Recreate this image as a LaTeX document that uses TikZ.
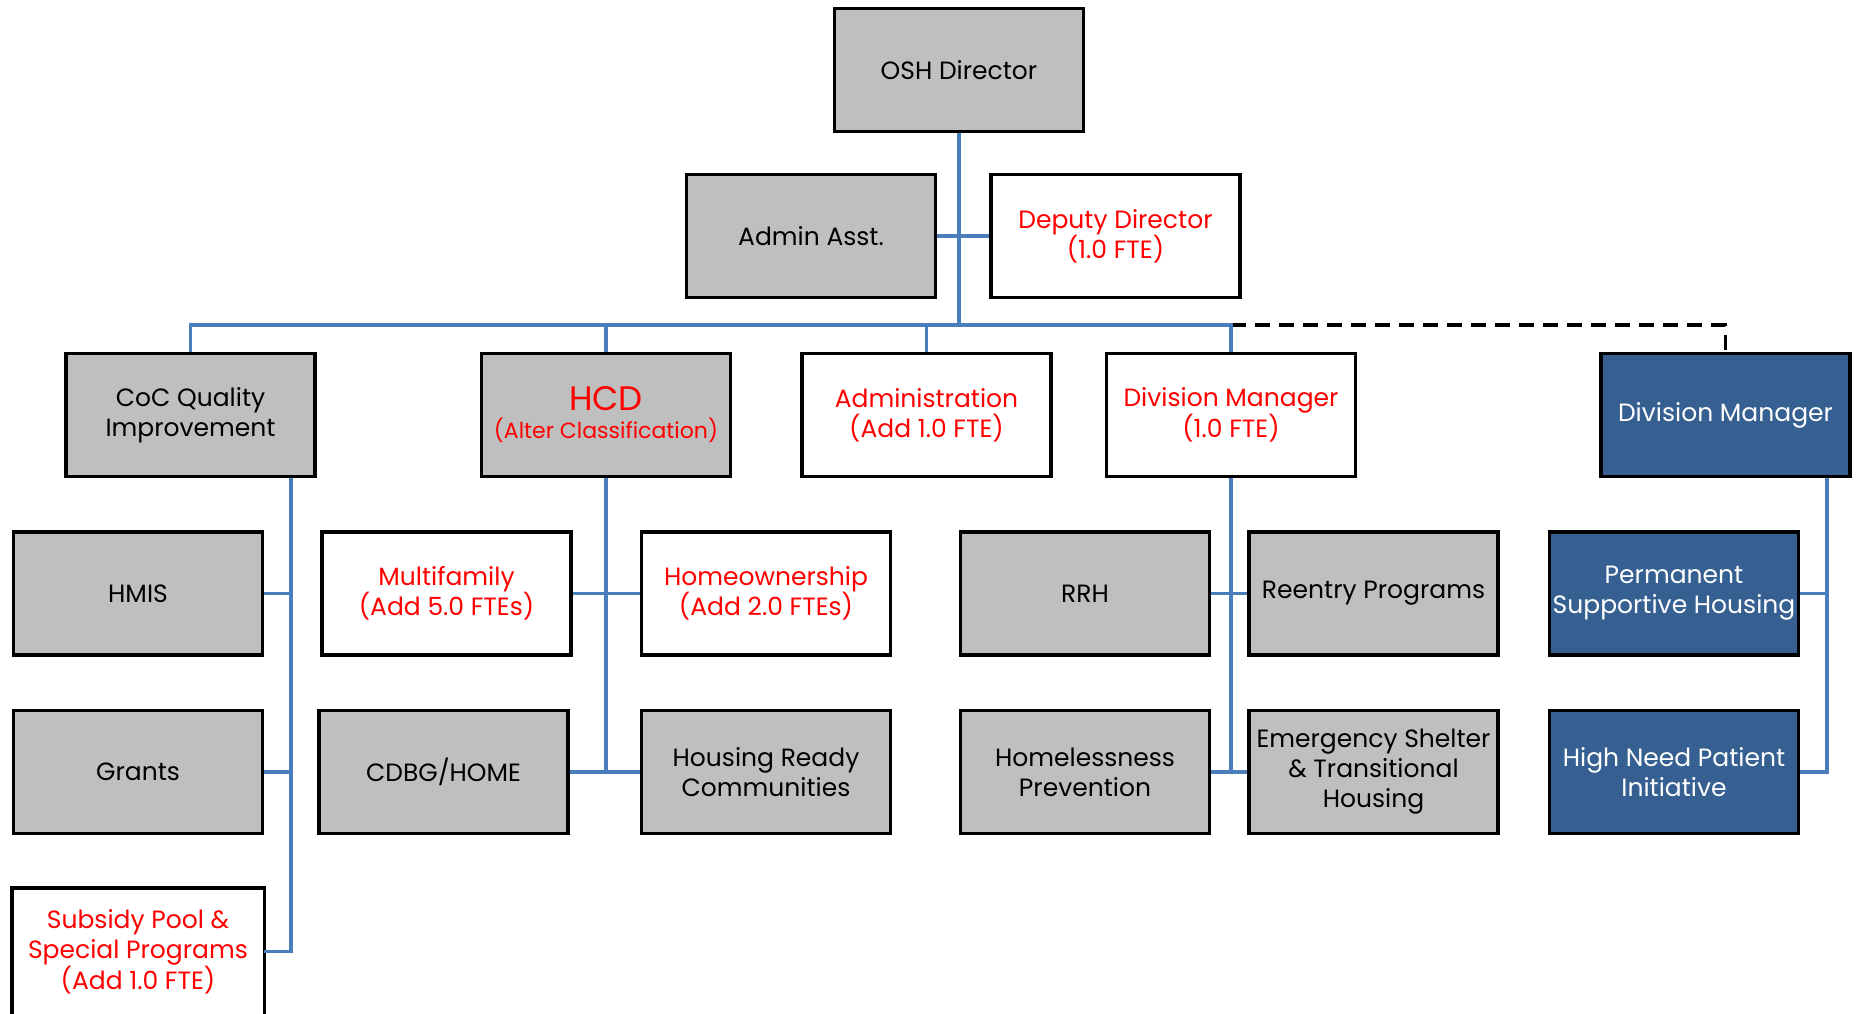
\documentclass[tikz,border=0pt]{standalone}
\usepackage{fontspec}
\setmainfont{Poppins}
\usetikzlibrary{calc}
\definecolor{conn}{HTML}{4A7EBB}
\definecolor{gfill}{HTML}{BFBFBF}
\definecolor{bfill}{HTML}{366092}
\definecolor{rtext}{HTML}{FF0000}
\begin{document}
\begin{tikzpicture}[x=1pt,y=-1pt,
  box/.style={draw=black, line width=3.8pt, minimum width=249pt, minimum height=123pt, inner sep=0pt, align=center, font=\fontsize{25}{30}\selectfont},
  graybox/.style={box, fill=gfill, text=black},
  redbox/.style={box, fill=white, text=rtext},
  redgray/.style={box, fill=gfill, text=rtext},
  bluebox/.style={box, fill=bfill, text=white},
  link/.style={draw=conn, line width=3.5pt},
  dotlink/.style={draw=black, line width=3.2pt, dash pattern=on 15pt off 9pt}]
\clip (0,0) rectangle (1858,1013);
\fill[white] (0,0) rectangle (1858,1013);
% level 0/1
\node[graybox] (osh) at (959,70) {OSH Director};
\node[graybox] (admin) at (811,236) {Admin Asst.};
\node[redbox] (deputy) at (1115.5,236) {Deputy Director\\(1.0 FTE)};
% level 2
\node[graybox] (coc) at (190.5,415) {CoC Quality\\Improvement};
\node[redgray] (hcd) at (606,415) {{\fontsize{34}{38}\selectfont HCD}\\[-2pt]{\fontsize{22}{26}\selectfont (Alter Classification)}};
\node[redbox] (adm) at (926.5,415) {Administration\\(Add 1.0 FTE)};
\node[redbox] (dmr) at (1231,415) {Division Manager\\(1.0 FTE)};
\node[bluebox] (dmb) at (1725.5,415) {Division Manager};
% level 3
\node[graybox] (hmis) at (138,593.5) {HMIS};
\node[graybox] (grants) at (138,772) {Grants};
\node[redbox, draw=none] (subsidy) at (138,951.5) {Subsidy Pool \&\\Special Programs\\(Add 1.0 FTE)};
\draw[line width=3.8pt, line join=miter] ($(subsidy.south west)+(0,12)$) -- (subsidy.north west) -- (subsidy.north east) -- ($(subsidy.south east)+(0,12)$);
\node[redbox] (multi) at (446.5,593.5) {Multifamily\\(Add 5.0 FTEs)};
\node[graybox] (cdbg) at (443.5,772) {CDBG/HOME};
\node[redbox] (homeown) at (766,593.5) {Homeownership\\(Add 2.0 FTEs)};
\node[graybox] (hready) at (766,772) {Housing Ready\\Communities};
\node[graybox] (rrh) at (1085,593.5) {RRH};
\node[graybox] (hprev) at (1085,772) {Homelessness\\Prevention};
\node[graybox] (reentry) at (1373.5,593.5) {Reentry Programs};
\node[graybox] (emerg) at (1373.5,772) {Emergency Shelter\\\& Transitional\\Housing};
\node[bluebox] (psh) at (1674,593.5) {Permanent\\Supportive Housing};
\node[bluebox] (hnpi) at (1674,772) {High Need Patient\\Initiative};
% connectors
\coordinate (bus) at (959,325);
\draw[link] (osh.south) -- (bus);
\draw[link] (admin.east) -- (deputy.west);
\draw[dotlink] (dmr.north |- bus) -| (dmb.north);
\draw[link] (coc.north) |- (bus) -| (dmr.north);
\draw[link] (hcd.north) -- (hcd.north |- bus);
\draw[link] (adm.north) -- (adm.north |- bus);
\coordinate (cocv) at ($(coc.south)+(100.5,0)$);
\draw[link] (cocv) |- (subsidy.east);
\draw[link] (hmis.east) -- (hmis.east -| cocv);
\draw[link] (grants.east) -- (grants.east -| cocv);
\draw[link] (hcd.south) -- (hcd.south |- cdbg.east);
\draw[link] (multi.east) -- (homeown.west);
\draw[link] (cdbg.east) -- (hready.west);
\draw[link] (dmr.south) -- (dmr.south |- hprev.east);
\draw[link] (rrh.east) -- (reentry.west);
\draw[link] (hprev.east) -- (emerg.west);
\coordinate (dmbv) at ($(dmb.south)+(101.5,0)$);
\draw[link] (dmbv) |- (hnpi.east);
\draw[link] (psh.east) -- (psh.east -| dmbv);
\end{tikzpicture}
\end{document}
